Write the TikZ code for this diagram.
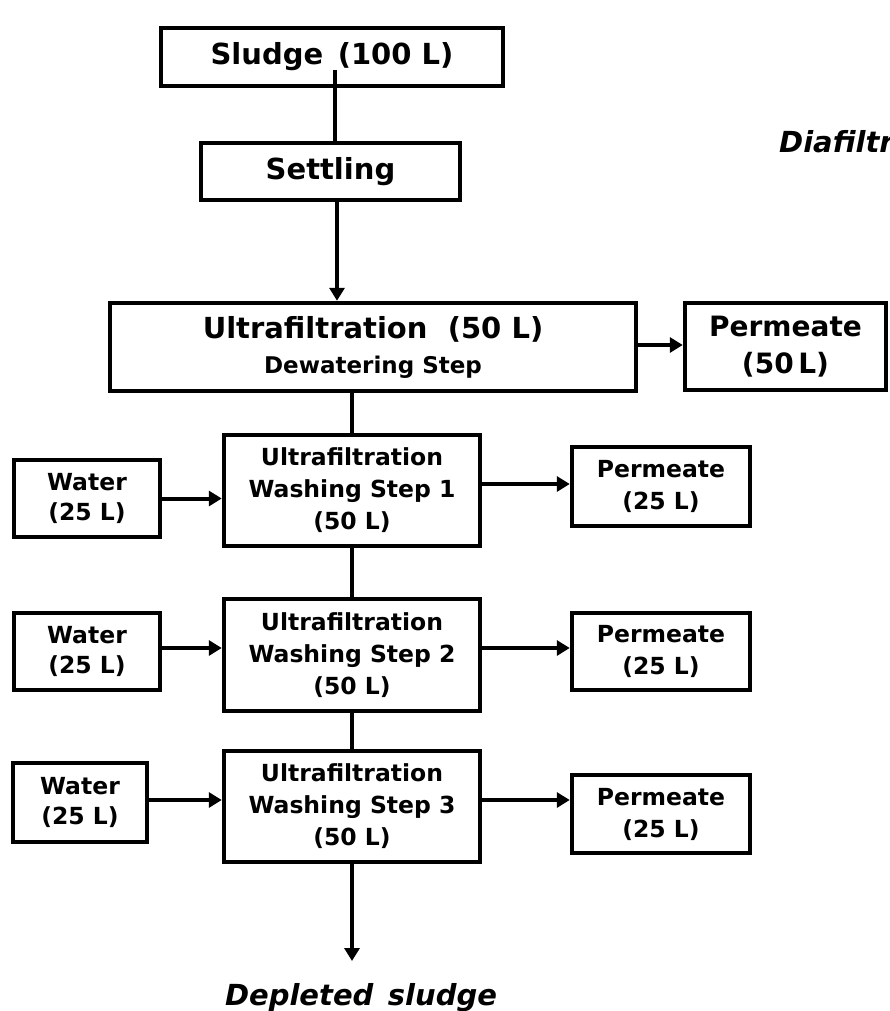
\documentclass[tikz,border=0pt]{standalone}
\usepackage{fontspec}
\setmainfont{DejaVu Sans}
\usetikzlibrary{arrows.meta}
\newcommand\fsz[2]{\fontsize{#1}{#2}\selectfont}
\begin{document}
\begin{tikzpicture}[x=1pt,y=-1pt,
  box/.style={draw, line width=4.5pt, inner sep=0pt, align=center},
  conn/.style={line width=4pt},
  arr/.style={line width=4pt, -{Triangle[length=13pt,width=15pt]}}]
\useasboundingbox (0,0) rectangle (890,1011);
\clip (0,0) rectangle (890,1011);
\fill[white] (0,0) rectangle (890,1011);

% main column
\node[box, minimum width=342pt, minimum height=58pt, font=\bfseries\fsz{29}{32}] (sludge) at (332,57)
  {Sludge\hspace{0.5em}(100 L)};
\node[box, minimum width=259pt, minimum height=57pt, font=\bfseries\fsz{29}{32}] (settling) at (330.5,171.5)
  {Settling};
\node[box, minimum width=526pt, minimum height=88pt, font=\bfseries\fsz{23}{35}] (uf) at (373,347)
  {{\fsz{29}{35}Ultrafiltration\hspace{0.7em}(50 L)}\\Dewatering Step};
\node[box, minimum width=201pt, minimum height=87pt, font=\bfseries\fsz{28}{37}] (perm0) at (785.5,346.5)
  {Permeate\\(50\,L)};

\node[box, minimum width=256pt, minimum height=111pt, font=\bfseries\fsz{23.5}{32}] (wash1) at (352,490.5)
  {Ultrafiltration\\Washing Step 1\\(50 L)};
\node[box, minimum width=256pt, minimum height=112pt, font=\bfseries\fsz{23.5}{32}] (wash2) at (352,655)
  {Ultrafiltration\\Washing Step 2\\(50 L)};
\node[box, minimum width=256pt, minimum height=111pt, font=\bfseries\fsz{23.5}{32}] (wash3) at (352,806.5)
  {Ultrafiltration\\Washing Step 3\\(50 L)};

% water boxes
\node[box, minimum width=146pt, minimum height=77pt, font=\bfseries\fsz{23.5}{30}] (water1) at (87,498.5)
  {Water\\(25 L)};
\node[box, minimum width=146pt, minimum height=77pt, font=\bfseries\fsz{23.5}{30}] (water2) at (87,651.5)
  {Water\\(25 L)};
\node[box, minimum width=134pt, minimum height=79pt, font=\bfseries\fsz{23.5}{30}] (water3) at (80,802.5)
  {Water\\(25 L)};

% permeate boxes
\node[box, minimum width=178pt, minimum height=79pt, font=\bfseries\fsz{23.5}{32}] (perm1) at (661,486.5)
  {Permeate\\(25 L)};
\node[box, minimum width=178pt, minimum height=77pt, font=\bfseries\fsz{23.5}{32}] (perm2) at (661,651.5)
  {Permeate\\(25 L)};
\node[box, minimum width=178pt, minimum height=78pt, font=\bfseries\fsz{23.5}{32}] (perm3) at (661,814)
  {Permeate\\(25 L)};

% labels
\node[anchor=base west, inner sep=0pt, font=\bfseries\itshape\fsz{29}{30}] (dia) at (779,153)
  {Diafiltration};
\node[anchor=base, inner sep=0pt, font=\bfseries\itshape\fsz{29}{32}] (depl) at (361,1005)
  {Depleted\hspace{0.5em}sludge};
\coordinate (dend) at (352,961);

% connectors
\draw[conn] ([xshift=3pt,yshift=-13pt]sludge.center) -- ([xshift=4.5pt]settling.north);
\draw[arr] ([xshift=6.5pt]settling.south) -- ([xshift=6.5pt]settling.south |- uf.north);
\draw[arr] ([yshift=2pt]uf.east) -- ([yshift=2pt]uf.east -| perm0.west);
\draw[conn] (uf.south -| wash1.north) -- (wash1.north);
\draw[conn] (wash1.south) -- (wash2.north);
\draw[conn] (wash2.south) -- (wash3.north);
\draw[arr] (wash3.south) -- (dend);

\draw[arr] (water1.east) -- (water1.east -| wash1.west);
\draw[arr] ([yshift=3.5pt]water2.east) -- ([yshift=3.5pt]water2.east -| wash2.west);
\draw[arr] ([yshift=2.5pt]water3.east) -- ([yshift=2.5pt]water3.east -| wash3.west);

\draw[arr] ([yshift=2.5pt]wash1.east |- perm1.west) -- ([yshift=2.5pt]perm1.west);
\draw[arr] ([yshift=3.5pt]wash2.east |- perm2.west) -- ([yshift=3.5pt]perm2.west);
\draw[arr] ([yshift=2.5pt]wash3.east |- water3.east) -- ([yshift=2.5pt]water3.east -| perm3.west);
\end{tikzpicture}
\end{document}
